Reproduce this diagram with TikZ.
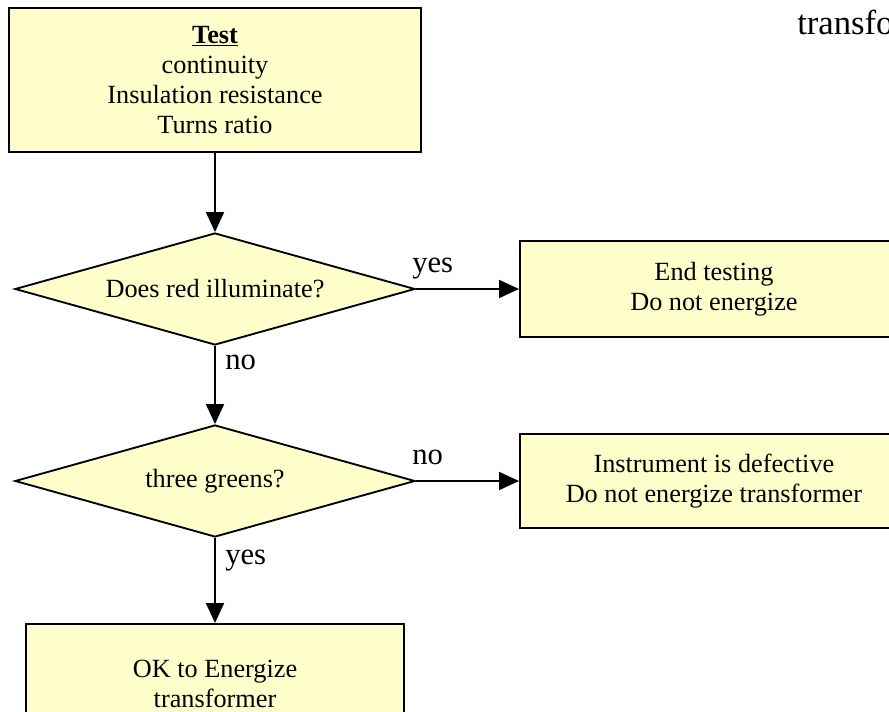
\documentclass[tikz,border=0pt]{standalone}
\usepackage{fontspec}
\setmainfont{Liberation Serif}
\usetikzlibrary{shapes.geometric,arrows.meta}

\definecolor{boxyellow}{RGB}{255,255,204}

\tikzset{
  chartbox/.style={draw, fill=boxyellow, line width=1.4pt, rectangle, align=center,
    inner sep=0pt, font=\fontsize{19.7}{22.5}\selectfont},
  question/.style={draw, fill=boxyellow, line width=1.4pt, diamond, aspect=3.57, inner sep=0pt,
    minimum width=300pt, minimum height=84pt, font=\fontsize{19.7}{22.5}\selectfont},
  flow/.style={-{Triangle[length=15pt,width=13.5pt]}, line width=1.4pt},
  answer/.style={anchor=base west, inner sep=0pt, font=\fontsize{23}{26}\selectfont}
}

\begin{document}
\begin{tikzpicture}[x=0.75pt, y=-0.75pt]
      \useasboundingbox (0, 0) rectangle (889, 712);
      \clip (0, 0) rectangle (889, 712);
      % boxes and questions
      \node[chartbox, minimum width=309pt, minimum height=108pt] (test) at (215, 80)
        {\underline{\textbf{Test}}\\continuity\\Insulation resistance\\Turns ratio};
      \node[question] (red) at (215, 289) {Does red illuminate?};
      \node[question] (greens) at (215, 481) {three greens?};
      \node[chartbox, anchor=west, minimum width=291pt, minimum height=72pt] (stop) at (519, 289)
        {End testing\\Do not energize};
      \node[chartbox, anchor=west, minimum width=291pt, minimum height=71pt] (defect) at (519, 481)
        {Instrument is defective\\Do not energize transformer};
      \node[chartbox, anchor=north, minimum width=283.5pt, minimum height=90pt] (ok) at (215, 623)
        {OK to Energize\\transformer};
      \node[anchor=base west, inner sep=0pt, font=\fontsize{26}{30}\selectfont] (title) at (797, 35) {transfo};
      % connectors
      \draw[flow] (test) -- (red);
      \draw[flow] (red) -- (stop);
      \draw[flow] (red) -- (greens);
      \draw[flow] (greens) -- (defect);
      \draw[flow] (greens) -- (ok);
      % answers
      \node[answer] (yes1) at (412, 273) {yes};
      \node[answer] (no1) at (225, 370) {no};
      \node[answer] (no2) at (412, 465) {no};
      \node[answer] (yes2) at (225, 565) {yes};
    \end{tikzpicture}
\end{document}
